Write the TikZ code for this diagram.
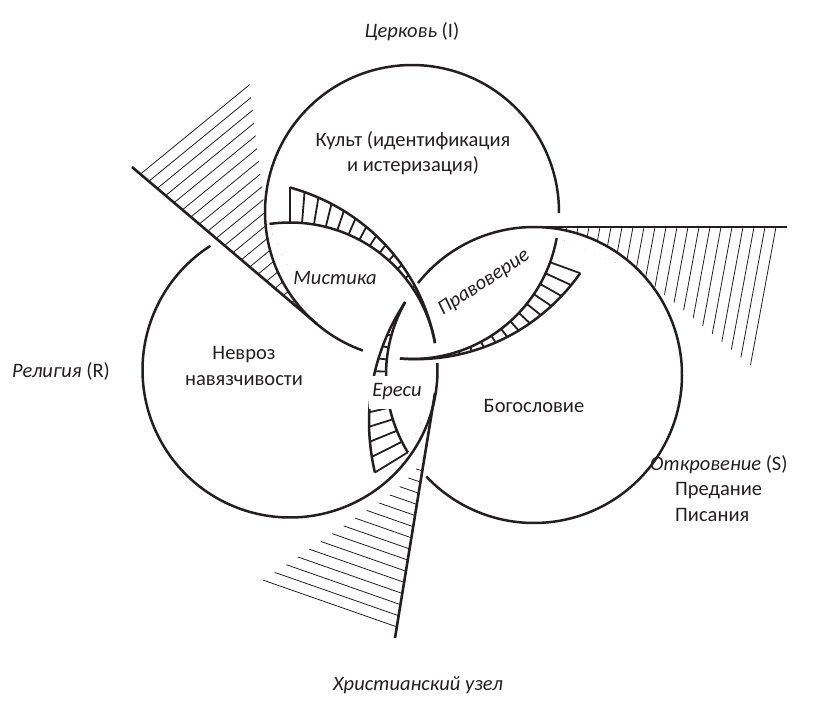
\documentclass[tikz,border=0pt]{standalone}
\usepackage{fontspec}
\setmainfont{Carlito}
\usepackage{xcolor}
\usepackage{tikz}
\usetikzlibrary{calc}
\definecolor{ink}{HTML}{231F20}

\begin{document}
\begin{tikzpicture}[
  x=1pt, y=-1pt,
  ring/.style={line width=2.5pt, draw=ink},
  ray/.style={line width=2.6pt, draw=ink},
  hatch/.style={line width=0.8pt, draw=ink},
  rung/.style={line width=1.8pt, draw=ink},
  lbl/.style={font=\fontsize{20.5}{25.5}\selectfont, text=ink, inner sep=0pt, align=center},
  ilbl/.style={lbl, font=\fontsize{20.5}{25.5}\selectfont\itshape},
  declare function={wm(\t)=35*((349.5-\t)/79.5)*((349.5-\t)/79.5);
                    wp(\t)=32*((94.7-\t)/74.7)*((94.7-\t)/74.7);
                    we(\t)=37*((209.5-\t)/59.5)*(0.3+0.7*(209.5-\t)/59.5);}
]
\useasboundingbox (0,0) rectangle (835,703);

\coordinate (oI) at (412,212);
\coordinate (oR) at (290,370);
\coordinate (oS) at (534,375);

% hatched wedges
\coordinate (tI) at (317,324);
\coordinate (bI) at (132,167);
\coordinate (cI) at (248,72);
\coordinate (eI) at (266,222);
\begin{scope}
  \clip (tI) -- (bI) -- (cI) -- (eI) -- cycle;
  \foreach \k in {1,...,21}
    \draw[hatch] ($(bI)!\k/22!(tI)$) -- ($(bI)!\k/22!(tI) + 1.4*(cI) - 1.4*(bI)$);
  \fill[white] (oI) circle[radius=147];
\end{scope}
\draw[ray] (bI) -- (tI);

\coordinate (tS) at (534,227);
\coordinate (bS) at (787,227);
\coordinate (cS) at (760,373);
\coordinate (eS) at (637,272);
\begin{scope}
  \clip (tS) -- (bS) -- (cS) -- (eS) -- cycle;
  \foreach \k in {1,...,22}
    \draw[hatch] ($(bS)!\k/23!(tS)$) -- ($(bS)!\k/23!(tS) + 1.4*(cS) - 1.4*(bS)$);
  \fill[white] (oS) circle[radius=148];
\end{scope}
\draw[ray] (tS) -- (bS);

\coordinate (tR) at (435,393);
\coordinate (bR) at (395,638);
\coordinate (cR) at (252,588);
\coordinate (eR) at (385,498);
\begin{scope}
  \clip (tR) -- (bR) -- (cR) -- (eR) -- cycle;
  \foreach \k in {1,...,21}
    \draw[hatch] ($(bR)!\k/22!(tR)$) -- ($(bR)!\k/22!(tR) + 1.4*(cR) - 1.4*(bR)$);
  \fill[white] (oR) circle[radius=160];
\end{scope}
\draw[ray] (tR) -- (bR);

% ring I with band
\begin{scope}[shift={(oI)}]
  \draw[ring] plot[domain=109.5:360.4, samples=120] (\x:147);
  \draw[ring] plot[domain=10.2:94.7, samples=60] (\x:147);
  \draw[ring] plot[domain=20:94.7, samples=60] (\x:{147+wp(\x)});
  \foreach \i in {0,...,15} {
    \pgfmathsetmacro\a{20+\i*74.7/16}
    \draw[rung] (\a:147) -- (\a:{147+wp(\a)});
  }
\end{scope}

% ring R with band
\begin{scope}[shift={(oR)}]
  \draw[ring] plot[domain=262:349.5, samples=60] (\x:147.5);
  \draw[ring] plot[domain=357.3:597.4, samples=160] (\x:147.5);
  \draw[ring] plot[domain=270:349.5, samples=60] (\x:{147.5+wm(\x)});
  \foreach \i in {0,...,16} {
    \pgfmathsetmacro\a{270+\i*79.5/17}
    \draw[rung] (\a:147.5) -- (\a:{147.5+wm(\a)});
  }
\end{scope}

% ring S with band
\begin{scope}[shift={(oS)}]
  \draw[ring] plot[domain=218.4:496.7, samples=160] (\x:148);
  \draw[ring] plot[domain=148.5:209.5, samples=60] (\x:148);
  \draw[ring] plot[domain=148.5:209.5, samples=60] (\x:{148+we(\x)});
  \foreach \i in {0,...,12} {
    \pgfmathsetmacro\a{148.5+\i*61/13}
    \draw[rung] (\a:148) -- (\a:{148+we(\a)});
  }
\end{scope}

% labels
\node[lbl, anchor=base] (church) at (412,38) {{\itshape Церковь} (I)};
\node[lbl] (cult) at (413,153) {Культ (идентификация\\и истеризация)};
\node[ilbl, anchor=base] (mystic) at (335,285) {Мистика};
\node[ilbl, rotate=33] (ortho) at (484,283) {Правоверие};
\node[lbl] (neurosis) at (244,366) {Невроз\\навязчивости};
\node[ilbl, fill=white, minimum width=56pt, minimum height=33pt] (heresy) at (397,392) {Ереси};
\node[lbl, anchor=base] (theology) at (534,412) {Богословие};
\node[lbl, anchor=base west] (religion) at (12,377) {{\itshape Религия} (R)};
\node[lbl, anchor=base west] (revel) at (650,470) {{\itshape Откровение} (S)};
\node[lbl, anchor=west, align=left] (tradition) at (675,502) {Предание\\Писания};
\node[ilbl, anchor=base] (knot) at (418,690) {Христианский узел};
\end{tikzpicture}
\end{document}
